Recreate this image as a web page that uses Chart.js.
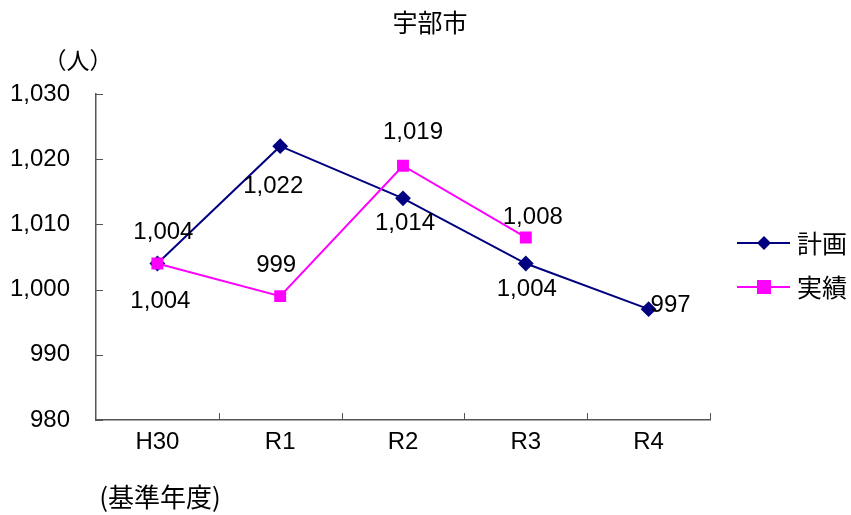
<!DOCTYPE html>
<html>
<head>
<meta charset="utf-8">
<script src="https://cdn.jsdelivr.net/npm/chart.js@4"></script>
<style>
  html, body { margin: 0; padding: 0; background: #fff; }
  #wrap { width: 851px; height: 515px; }
</style>
</head>
<body>
<div id="wrap"><canvas id="c" width="851" height="515"></canvas></div>
<script>
// データ
const years = ['H30', 'R1', 'R2', 'R3', 'R4'];
const plan = [1004, 1022, 1014, 1004, 997];
const actual = [1004, 999, 1019, 1008, null];
const yTicks = [980, 990, 1000, 1010, 1020, 1030];

const FONT = '"Liberation Sans", Arial, sans-serif';
const CJK = '"Noto Sans CJK JP", sans-serif';
const fmt = v => v.toLocaleString('en-US');

// ラベル位置（点からのずれ dx, dy）
const planOff = [[3, 38], [-7, 40], [2, 25], [1, 26], [22, -4]];
const actualOff = [[6, -31], [-4, -31], [10, -33], [7, -20], [0, 0]];

const extras = {
  id: 'extras',
  afterDraw(chart) {
    const ctx = chart.ctx;
    const xs = chart.scales.x, ys = chart.scales.y;
    ctx.save();
    // 内向きの目盛り
    ctx.strokeStyle = '#555';
    ctx.lineWidth = 1;
    for (let i = 1; i <= years.length; i++) {
      const px = Math.round(xs.left + (xs.right - xs.left) * i / years.length) + 0.5;
      ctx.beginPath();
      ctx.moveTo(px, ys.bottom);
      ctx.lineTo(px, ys.bottom - 7);
      ctx.stroke();
    }
    yTicks.forEach(v => {
      const py = Math.round(ys.getPixelForValue(v)) + 0.5;
      ctx.beginPath();
      ctx.moveTo(xs.left, py);
      ctx.lineTo(xs.left + 7, py);
      ctx.stroke();
    });

    // 値ラベル
    ctx.fillStyle = '#000';
    ctx.font = '24px ' + FONT;
    ctx.textBaseline = 'middle';
    ctx.textAlign = 'center';
    const drawLabels = (di, off) => {
      const meta = chart.getDatasetMeta(di);
      meta.data.forEach((pt, i) => {
        const v = chart.data.datasets[di].data[i];
        if (v == null) return;
        ctx.fillText(fmt(v), pt.x + off[i][0], pt.y + off[i][1]);
      });
    };
    drawLabels(0, planOff);
    drawLabels(1, actualOff);

    // タイトル・単位
    ctx.font = '25px ' + CJK;
    ctx.fillText('宇部市', 430, 22);
    ctx.font = '23px ' + CJK;
    ctx.fillText('（人）', 78, 60);
    ctx.font = '26px ' + CJK;
    ctx.fillText('(基準年度)', 160, 497);

    // 凡例
    const items = [
      { label: '計画', color: '#000080', style: 'diamond', y: 243 },
      { label: '実績', color: '#ff00ff', style: 'square', y: 287 }
    ];
    items.forEach(it => {
      ctx.strokeStyle = it.color;
      ctx.fillStyle = it.color;
      ctx.lineWidth = 2;
      ctx.beginPath();
      ctx.moveTo(737, it.y);
      ctx.lineTo(790, it.y);
      ctx.stroke();
      const cx = 764;
      ctx.beginPath();
      if (it.style === 'diamond') {
        ctx.moveTo(cx, it.y - 7); ctx.lineTo(cx + 7, it.y);
        ctx.lineTo(cx, it.y + 7); ctx.lineTo(cx - 7, it.y);
        ctx.closePath();
      } else {
        ctx.rect(cx - 7, it.y - 7, 14, 14);
      }
      ctx.fill();
      ctx.fillStyle = '#000';
      ctx.font = '25px ' + CJK;
      ctx.textAlign = 'left';
      ctx.fillText(it.label, 797, it.y);
    });
    ctx.restore();
  }
};

new Chart(document.getElementById('c'), {
  type: 'line',
  data: {
    labels: years,
    datasets: [
      {
        label: '計画',
        data: plan,
        order: 1,
        borderColor: '#000080',
        backgroundColor: '#000080',
        borderWidth: 2,
        pointStyle: 'rectRot',
        pointRadius: 6.5,
        pointHoverRadius: 6.5,
        tension: 0
      },
      {
        label: '実績',
        data: actual,
        order: 0,
        borderColor: '#ff00ff',
        backgroundColor: '#ff00ff',
        borderWidth: 2,
        pointStyle: 'rect',
        pointRadius: 7,
        pointHoverRadius: 7,
        tension: 0
      }
    ]
  },
  options: {
    responsive: false,
    animation: false,
    layout: { padding: { top: 94, right: 141, left: 0, bottom: 0 } },
    plugins: {
      legend: { display: false },
      title: { display: false },
      tooltip: { enabled: false }
    },
    scales: {
      x: {
        offset: true,
        grid: { display: false },
        border: { display: true, color: '#555', width: 1.5 },
        ticks: { color: '#000', font: { family: FONT, size: 24 }, padding: 0 },
        afterFit(s) { s.height = 95; }
      },
      y: {
        min: 980,
        max: 1030,
        grid: { display: false },
        border: { display: true, color: '#555', width: 1.5 },
        afterBuildTicks(s) { s.ticks = yTicks.map(v => ({ value: v })); },
        ticks: {
          color: '#000',
          font: { family: FONT, size: 24 },
          padding: 18,
          callback: v => fmt(v)
        },
        afterFit(s) { s.width = 96; }
      }
    }
  },
  plugins: [extras]
});
</script>
</body>
</html>
